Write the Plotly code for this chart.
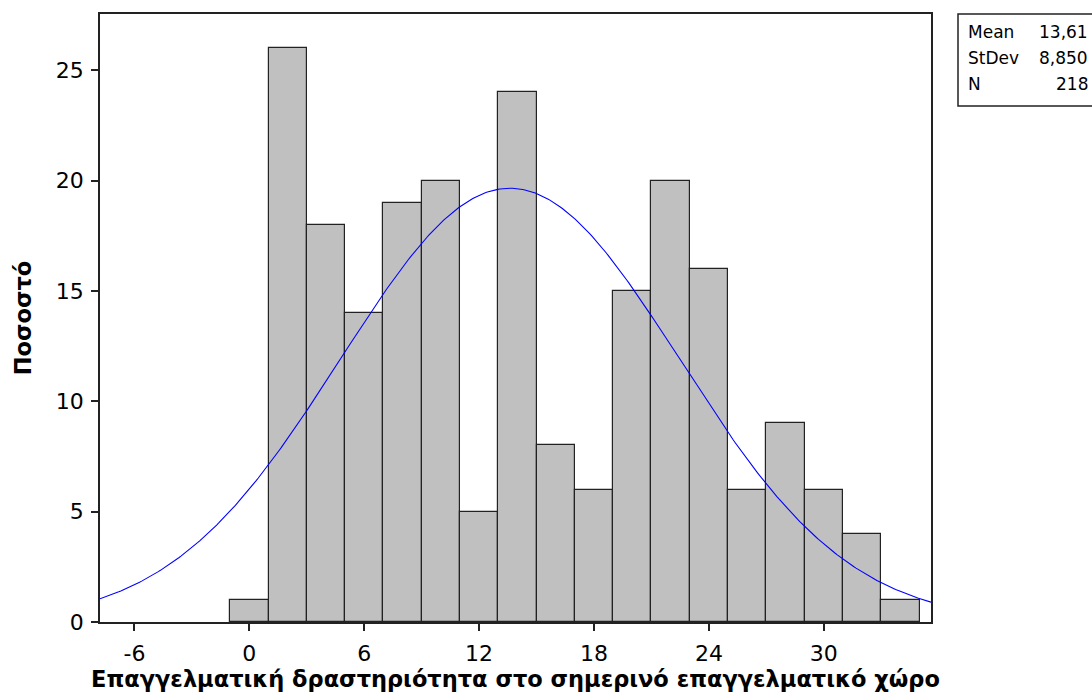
import numpy as np
import plotly.graph_objects as go

# Histogram bins (centre of each 2-unit bin) and counts
bin_centers = [0, 2, 4, 6, 8, 10, 12, 14, 16, 18, 20, 22, 24, 26, 28, 30, 32, 34]
counts = [1, 26, 18, 14, 19, 20, 5, 24, 8, 6, 15, 20, 16, 6, 9, 6, 4, 1]
bin_width = 2

# Summary statistics shown in the legend box
mean_val = 13.61
std_val = 8.850
n_obs = 218

x_ticks = [-6, 0, 6, 12, 18, 24, 30]
y_ticks = [0, 5, 10, 15, 20, 25]
x_range = [-7.8, 35.6]
y_range = [0, 27.55]

# Fitted normal curve scaled to counts
xs = np.linspace(x_range[0], x_range[1], 400)
ys = n_obs * bin_width / (std_val * np.sqrt(2 * np.pi)) * np.exp(-0.5 * ((xs - mean_val) / std_val) ** 2)

font_family = "DejaVu Sans"

fig = go.Figure()
fig.add_trace(go.Bar(
    x=bin_centers, y=counts, width=bin_width,
    marker=dict(color="#C0C0C0", line=dict(color="#222222", width=1.2)),
    hoverinfo="x+y",
))
fig.add_trace(go.Scatter(
    x=xs, y=ys, mode="lines",
    line=dict(color="#0000FF", width=1.1),
    hoverinfo="skip",
))

fig.update_layout(
    width=1092, height=695,
    margin=dict(l=100, r=161, t=14, b=73),
    paper_bgcolor="white", plot_bgcolor="white",
    showlegend=False,
    bargap=0,
    font=dict(family=font_family, color="black"),
)
fig.update_xaxes(
    range=x_range, tickvals=x_ticks, ticktext=[str(v) for v in x_ticks],
    showgrid=False, zeroline=False, automargin=False,
    showline=True, mirror=True, linecolor="#222222", linewidth=1.5,
    ticks="outside", ticklen=7, tickcolor="#222222", tickwidth=1.5,
    ticklabelstandoff=4,
    tickfont=dict(size=22, family=font_family, color="black"),
    title=dict(text="<b>Επαγγελματική δραστηριότητα στο σημερινό επαγγελματικό χώρο</b>",
               font=dict(size=22.5, family=font_family, color="black"), standoff=6),
)
fig.update_yaxes(
    range=y_range, tickvals=y_ticks, ticktext=[str(v) for v in y_ticks],
    showgrid=False, zeroline=False, automargin=False,
    showline=True, mirror=True, linecolor="#222222", linewidth=1.5,
    ticks="outside", ticklen=7, tickcolor="#222222", tickwidth=1.5,
    ticklabelstandoff=3,
    tickfont=dict(size=22, family=font_family, color="black"),
    title=dict(text="<b>Ποσοστό</b>",
               font=dict(size=22.5, family=font_family, color="black"), standoff=18),
)

# Statistics box at the top right
W, H = 1092, 695
def px(x):
    return (x - 100) / (W - 100 - 161)
def py(y):
    return 1 - (y - 14) / (H - 14 - 73)

fig.add_shape(type="rect", xref="paper", yref="paper",
              x0=px(958), x1=px(1100), y0=py(106), y1=py(14),
              line=dict(color="#222222", width=1.5), fillcolor="white")

labels = ["Mean", "StDev", "N"]
values = [f"{mean_val:.2f}".replace(".", ","), f"{std_val:.3f}".replace(".", ","), str(n_obs)]
row_y = [32, 58, 84]
for lab, val, yy in zip(labels, values, row_y):
    fig.add_annotation(xref="paper", yref="paper", x=px(966), y=py(yy),
                       text=lab, showarrow=False, xanchor="left", yanchor="middle",
                       font=dict(size=17, family=font_family, color="black"))
    fig.add_annotation(xref="paper", yref="paper", x=px(1090), y=py(yy),
                       text=val, showarrow=False, xanchor="right", yanchor="middle",
                       font=dict(size=17, family=font_family, color="black"))

fig.write_html("out.html")
